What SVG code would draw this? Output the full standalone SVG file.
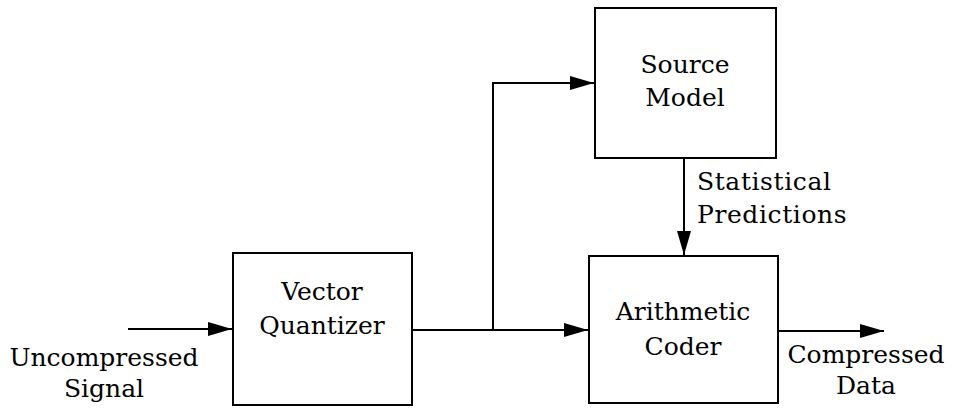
<svg xmlns="http://www.w3.org/2000/svg" width="959" height="409" viewBox="0 0 959 409">
<style>
.box{fill:#fff;stroke:#000;stroke-width:2}
.ln{fill:none;stroke:#000;stroke-width:2}
text{font-family:"DejaVu Serif","Liberation Serif",serif;font-size:25px;fill:#000}
.c{text-anchor:middle}
.s{font-size:25px;letter-spacing:0.6px}
</style>
<defs>
<marker id="ah" markerUnits="userSpaceOnUse" markerWidth="26" markerHeight="16" refX="24" refY="8" orient="auto">
<path d="M0,1 L24,8 L0,15 Z" fill="#000"/>
</marker>
</defs>
<g id="connectors">
<path class="ln" d="M128,329 H232" marker-end="url(#ah)"/>
<path class="ln" d="M412,330 H588" marker-end="url(#ah)"/>
<path class="ln" d="M493,330 V83 H594" marker-end="url(#ah)"/>
<path class="ln" d="M684,158 V255" marker-end="url(#ah)"/>
<path class="ln" d="M778,331 H884" marker-end="url(#ah)"/>
</g>
<g id="vq">
<rect class="box" x="233" y="253" width="179" height="152"/>
<text class="c" x="322" y="300">Vector</text>
<text class="c" x="322" y="334">Quantizer</text>
</g>
<g id="sm">
<rect class="box" x="595" y="8" width="181" height="150"/>
<text class="c" x="685" y="73">Source</text>
<text class="c" x="685" y="106">Model</text>
</g>
<g id="ac">
<rect class="box" x="589" y="256" width="189" height="147"/>
<text class="c" x="683" y="320">Arithmetic</text>
<text class="c" x="683" y="355">Coder</text>
</g>
<g id="labels">
<text class="c" x="104" y="366">Uncompressed</text>
<text class="c" x="104" y="397">Signal</text>
<text class="s" x="697" y="190">Statistical</text>
<text class="s" x="697" y="223">Predictions</text>
<text class="c" x="866" y="363">Compressed</text>
<text class="c" x="866" y="394">Data</text>
</g>
</svg>
